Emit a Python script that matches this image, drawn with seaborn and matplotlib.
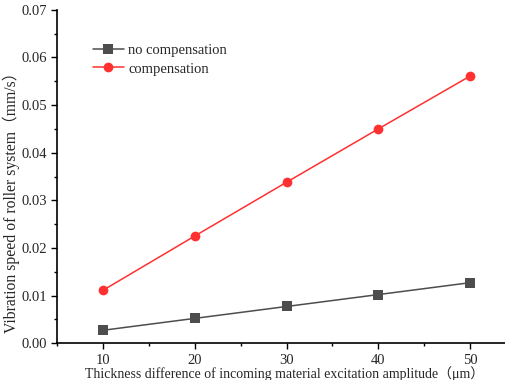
import matplotlib
matplotlib.use('Agg')
import matplotlib.pyplot as plt
import pandas as pd
import seaborn as sns
from matplotlib.ticker import MultipleLocator

# data
amplitude = [10, 20, 30, 40, 50]
no_comp = [0.0027, 0.0052, 0.0077, 0.0102, 0.0127]
comp = [0.0111, 0.0225, 0.0338, 0.0450, 0.0561]
series_names = ["no compensation", "compensation"]

df = pd.DataFrame({
    "x": amplitude * 2,
    "y": no_comp + comp,
    "series": [series_names[0]] * 5 + [series_names[1]] * 5,
})

sns.set_style("ticks")
plt.rcParams['font.family'] = ['Liberation Serif', 'Noto Sans CJK SC', 'DejaVu Sans']

fig = plt.figure(figsize=(5.05, 3.8), dpi=100)
ax = fig.add_axes([0.113, 0.097, 0.887, 0.877])

sns.lineplot(data=df, x="x", y="y", hue="series", style="series",
             palette={"no compensation": "#4d4d4d", "compensation": "#ff3030"},
             markers={"no compensation": "s", "compensation": "o"},
             dashes=False, markersize=7, markeredgewidth=0, linewidth=1.1, ax=ax)

ax.set_xlim(5, 53.8)
ax.set_ylim(0, 0.07)
ax.xaxis.set_major_locator(MultipleLocator(10))
ax.xaxis.set_minor_locator(MultipleLocator(5))
ax.yaxis.set_major_locator(MultipleLocator(0.01))
ax.yaxis.set_minor_locator(MultipleLocator(0.005))
ax.yaxis.set_major_formatter(matplotlib.ticker.FormatStrFormatter('%.2f'))
ax.tick_params(which='major', length=4, width=1, labelsize=10.5, color='black')
ax.tick_params(which='minor', length=2.5, width=1, color='black')

for s in ['top', 'right']:
    ax.spines[s].set_visible(False)
for s in ['left', 'bottom']:
    ax.spines[s].set_linewidth(1.2)
    ax.spines[s].set_color('black')

ax.set_xlabel("Thickness difference of incoming material excitation amplitude（μm）",
              fontsize=10)
ax.xaxis.set_label_coords(0.507, -0.068)
ax.set_ylabel("Vibration speed of roller system（mm/s）", fontsize=11.3)
ax.yaxis.set_label_coords(-0.083, 0.432)

ax.legend(title=None, loc='upper left', bbox_to_anchor=(0.051, 0.937), frameon=False,
          fontsize=10.5, handlelength=2.1, handletextpad=0.3, labelspacing=0.35)

plt.savefig("out.png", dpi=100)
plt.close()
